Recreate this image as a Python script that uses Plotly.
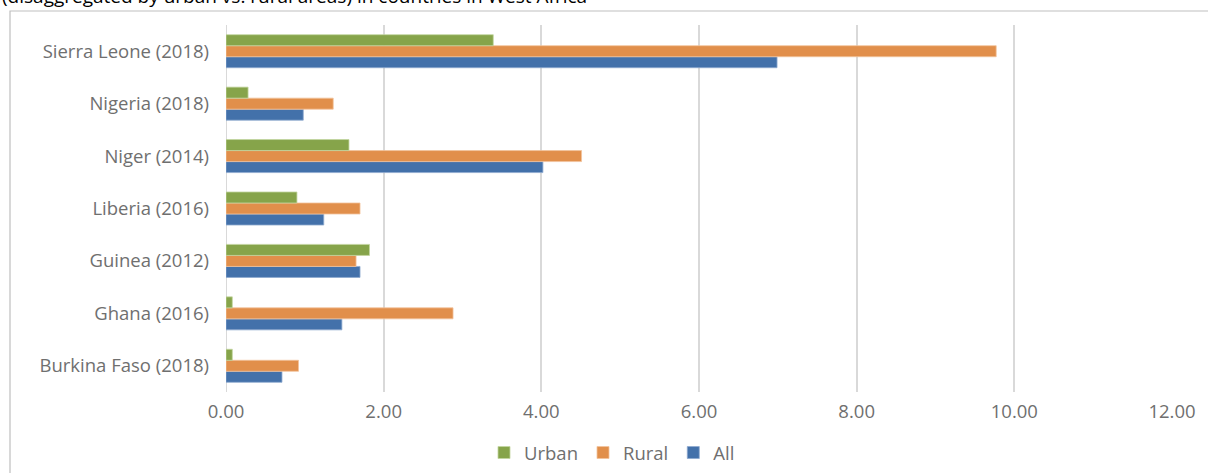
import plotly.graph_objects as go

countries = ["Burkina Faso (2018)", "Ghana (2016)", "Guinea (2012)", "Liberia (2016)",
             "Niger (2014)", "Nigeria (2018)", "Sierra Leone (2018)"]
urban = [0.08, 0.08, 1.82, 0.90, 1.56, 0.28, 3.39]
rural = [0.92, 2.88, 1.65, 1.70, 4.51, 1.36, 9.77]
all_ = [0.71, 1.47, 1.70, 1.24, 4.02, 0.98, 6.99]
x_ticks = [0, 2, 4, 6, 8, 10, 12]

W, H = 1208, 473
L, R, T, B = 226, 36, 25, 81
pw, ph = W - L - R, H - T - B

txt = "#6F6F6F"
font = "Open Sans, Liberation Sans, sans-serif"
fs = 18.5

fig = go.Figure()
fig.add_trace(go.Bar(y=countries, x=all_, name="All", orientation="h",
                     marker=dict(color="#4371AA", line=dict(color="#8EA9CF", width=0.8))))
fig.add_trace(go.Bar(y=countries, x=rural, name="Rural", orientation="h",
                     marker=dict(color="#E18F4B", line=dict(color="#F2C39C", width=0.8))))
fig.add_trace(go.Bar(y=countries, x=urban, name="Urban", orientation="h",
                     marker=dict(color="#86A44A", line=dict(color="#C3D5A0", width=0.8))))

fig.update_layout(
    width=W, height=H,
    margin=dict(l=L, r=R, t=T, b=B, autoexpand=False),
    paper_bgcolor="white", plot_bgcolor="white",
    barmode="group", bargap=0.37, bargroupgap=0,
    font=dict(family=font, size=fs, color=txt),
    showlegend=True,
    legend=dict(orientation="h", traceorder="reversed",
                x=(484 - L) / pw, xanchor="left",
                y=(T + ph - 453) / ph, yanchor="middle",
                font=dict(size=fs, color=txt), itemwidth=30),
    xaxis=dict(range=[0, 12.0], tickvals=x_ticks, tickformat=".2f",
               showgrid=True, gridcolor="#D9D9D9", gridwidth=2,
               zeroline=False, showline=False, ticks="", ticklen=0,
               ticklabelstandoff=6,
               automargin=False, tickfont=dict(size=fs, color=txt)),
    yaxis=dict(type="category", showgrid=False, zeroline=False,
               showline=False, ticks="", ticklen=0, ticklabelstandoff=16,
               automargin=False, tickfont=dict(size=fs, color=txt)),
    shapes=[
        dict(type="line", xref="x", yref="paper", x0=0, x1=0, y0=0, y1=1,
             line=dict(color="#D9D9D9", width=2), layer="below"),
        dict(type="rect", xref="paper", yref="paper",
             x0=(10 - L) / pw, x1=(W + 40 - L) / pw,
             y0=-(B + 20) / ph, y1=1 + (T - 11) / ph,
             line=dict(color="#BFBFBF", width=1.2), fillcolor="rgba(0,0,0,0)"),
    ],
    annotations=[
        dict(text="(disaggregated by urban vs. rural areas) in countries in West Africa",
             xref="paper", yref="paper", x=(0 - L) / pw, xanchor="left",
             y=1 + (T + 4) / ph, yanchor="middle", showarrow=False,
             font=dict(size=19, color="#000000", family=font)),
    ],
)

fig.write_html("out.html", config={"displayModeBar": False},
               post_script="document.body.style.margin='0';document.body.style.overflow='hidden';")
